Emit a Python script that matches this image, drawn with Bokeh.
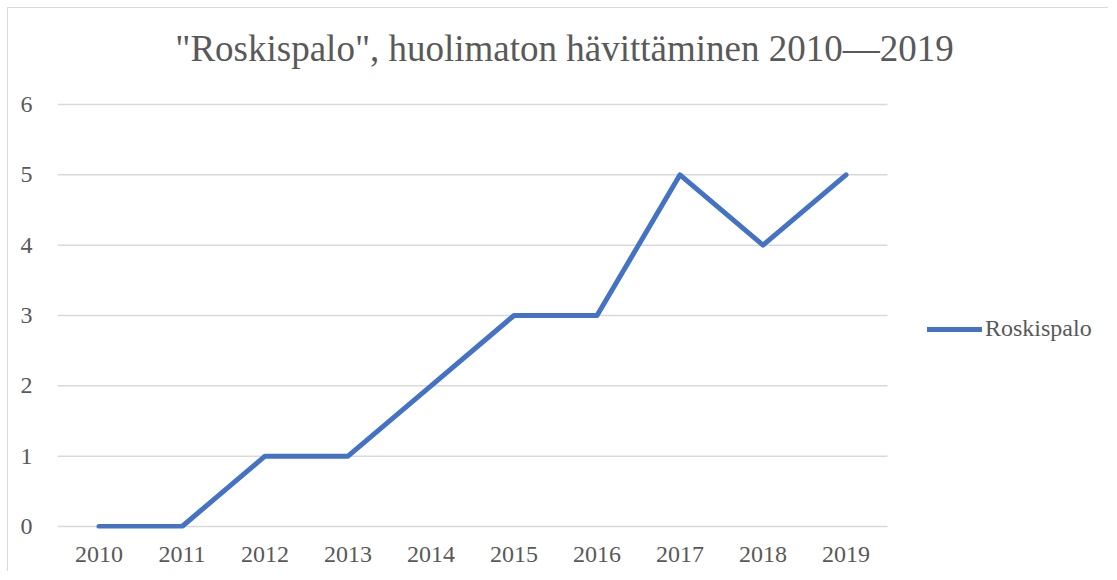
from bokeh.plotting import figure
from bokeh.models import Range1d, Label, Legend, LegendItem, ColumnDataSource, FixedTicker
from bokeh.embed import file_html
from bokeh.resources import INLINE

years = ["2010", "2011", "2012", "2013", "2014", "2015", "2016", "2017", "2018", "2019"]
roskispalo = [0, 0, 1, 1, 2, 3, 3, 5, 4, 5]
y_ticks = [0, 1, 2, 3, 4, 5, 6]
title_text = '"Roskispalo", huolimaton hävittäminen 2010\u20142019'
series_name = "Roskispalo"

FONT = "Liberation Serif"
GRAY = "#595959"
BLUE = "#4472C4"
GRID = "#d9d9d9"

# layout (pixels)
W, H = 1101, 564
LEFT, BOTTOM = 49, 44
TOP_GAP = 96                       # from canvas top to the highest gridline
PLOT_W, PLOT_H = 830, 422          # region of the chart proper
FRAME_W, FRAME_H = W - LEFT, H - BOTTOM
BELOW = FRAME_H - TOP_GAP - PLOT_H # frame pixels below the zero line

# categorical positions: centre of each slot
xpos = [i + 0.5 for i in range(len(years))]
x_end = len(years) * FRAME_W / PLOT_W
ppu = PLOT_H / y_ticks[-1]
y_start = -BELOW / ppu
y_end = y_start + FRAME_H / ppu

p = figure(width=W, height=H, x_range=Range1d(0, x_end), y_range=Range1d(y_start, y_end),
           output_backend="svg", toolbar_location=None,
           min_border_left=LEFT, min_border_right=0, min_border_top=0, min_border_bottom=BOTTOM)
p.styles = {"margin-left": "7px", "margin-top": "7px",
            "border-left": "1px solid #d9d9d9", "border-top": "1px solid #d9d9d9"}
p.outline_line_color = None
p.background_fill_color = "white"
p.border_fill_color = "white"
p.xgrid.visible = False
p.ygrid.visible = False

# horizontal gridlines across the category span
p.segment(x0=[0] * len(y_ticks), x1=[len(years)] * len(y_ticks), y0=y_ticks, y1=y_ticks,
          line_color=GRID, line_width=1.5)

src = ColumnDataSource(dict(x=xpos, y=roskispalo))
r = p.line("x", "y", source=src, line_color=BLUE, line_width=5, line_cap="round", line_join="round")

p.xaxis.ticker = FixedTicker(ticks=xpos)
p.xaxis.major_label_overrides = {x: y for x, y in zip(xpos, years)}
p.yaxis.ticker = FixedTicker(ticks=y_ticks)
for ax in (p.xaxis[0], p.yaxis[0]):
    ax.axis_line_color = None
    ax.major_tick_line_color = None
    ax.minor_tick_line_color = None
    ax.major_label_text_font = FONT
    ax.major_label_text_font_size = "24px"
    ax.major_label_text_color = GRAY
p.yaxis.major_label_standoff = 19
p.xaxis.major_label_standoff = 12

legend = Legend(items=[LegendItem(label=series_name, renderers=[r])],
                location=(870, 184 + BELOW), glyph_width=55, glyph_height=24, label_height=24,
                label_standoff=3, padding=0, margin=0, border_line_color=None,
                background_fill_alpha=0,
                label_text_font=FONT, label_text_font_size="24px", label_text_color=GRAY)
p.add_layout(legend, "center")

title = Label(x=507, y=FRAME_H - 40, x_units="screen", y_units="screen", text=title_text,
              text_align="center", text_baseline="alphabetic", text_font=FONT,
              text_font_size="37px", text_color=GRAY)
p.add_layout(title)

open("out.html", "w").write(file_html(p, INLINE))
